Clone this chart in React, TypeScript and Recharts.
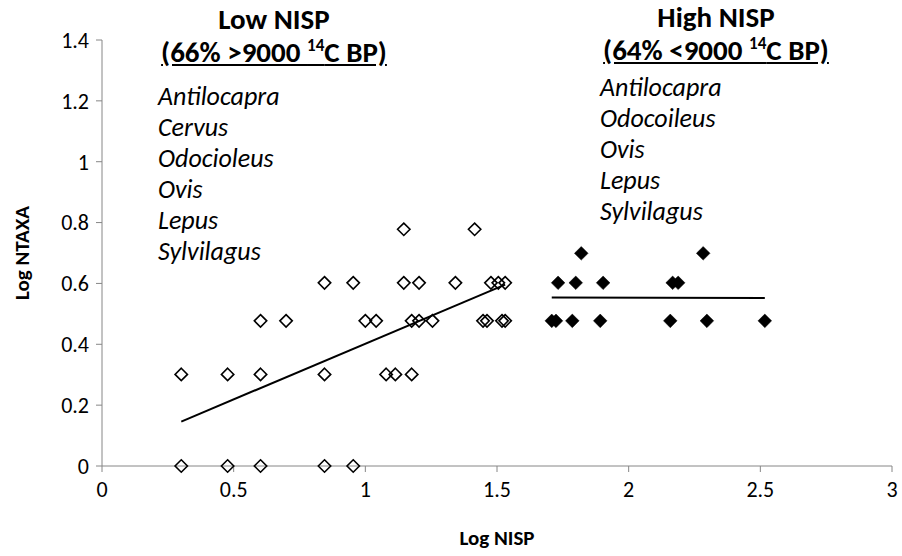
import React from "react";
import { Label, Scatter, ScatterChart, XAxis, YAxis } from "recharts";

// Log NISP vs Log NTAXA. Open diamonds = low NISP assemblages, filled = high NISP.
// Each set gets its own least-squares line, computed from the points below.

const FONT = "Carlito, Calibri, Lato, sans-serif";
const AXIS_GREY = "#868686";

const LOW_X = [
  0.301, 0.477, 0.602, 0.845, 0.954,
  0.301, 0.477, 0.602, 0.845, 1.079, 1.114, 1.176,
  0.602, 0.699, 1.0, 1.041, 1.176, 1.204, 1.255, 1.447, 1.462, 1.519, 1.531,
  0.845, 0.954, 1.146, 1.204, 1.342, 1.477, 1.505, 1.531,
  1.146, 1.415,
];
const LOW_Y = [
  0, 0, 0, 0, 0,
  0.301, 0.301, 0.301, 0.301, 0.301, 0.301, 0.301,
  0.477, 0.477, 0.477, 0.477, 0.477, 0.477, 0.477, 0.477, 0.477, 0.477, 0.477,
  0.602, 0.602, 0.602, 0.602, 0.602, 0.602, 0.602, 0.602,
  0.778, 0.778,
];

const HIGH_X = [
  1.708, 1.724, 1.786, 1.892, 2.158, 2.297, 2.517,
  1.732, 1.799, 1.903, 2.167, 2.188,
  1.82, 2.283,
];
const HIGH_Y = [
  0.477, 0.477, 0.477, 0.477, 0.477, 0.477, 0.477,
  0.602, 0.602, 0.602, 0.602, 0.602,
  0.699, 0.699,
];

const X_TICKS = [0, 0.5, 1, 1.5, 2, 2.5, 3];
const Y_TICKS = [0, 0.2, 0.4, 0.6, 0.8, 1, 1.2, 1.4];

const LOW_TAXA = ["Antilocapra", "Cervus", "Odocioleus", "Ovis", "Lepus", "Sylvilagus"];
const HIGH_TAXA = ["Antilocapra", "Odocoileus", "Ovis", "Lepus", "Sylvilagus"];

type Pt = { x: number; y: number };

const zip = (xs: number[], ys: number[]): Pt[] => xs.map((x, i) => ({ x, y: ys[i] }));

// least squares, drawn from the smallest to the largest x (like an Excel trendline)
function fitLine(pts: Pt[]): Pt[] {
  const n = pts.length;
  const mx = pts.reduce((s, p) => s + p.x, 0) / n;
  const my = pts.reduce((s, p) => s + p.y, 0) / n;
  let sxy = 0;
  let sxx = 0;
  for (const p of pts) {
    sxy += (p.x - mx) * (p.y - my);
    sxx += (p.x - mx) ** 2;
  }
  const m = sxy / sxx;
  const b = my - m * mx;
  const xs = pts.map((p) => p.x);
  const x0 = Math.min(...xs);
  const x1 = Math.max(...xs);
  return [
    { x: x0, y: b + m * x0 },
    { x: x1, y: b + m * x1 },
  ];
}

const lowPts = zip(LOW_X, LOW_Y);
const highPts = zip(HIGH_X, HIGH_Y);

function Diamond({ cx, cy, filled }: { cx?: number; cy?: number; filled?: boolean }) {
  if (cx == null || cy == null) return null;
  const r = filled ? 6.8 : 6.2;
  return (
    <path
      d={`M${cx},${cy - r}L${cx + r},${cy}L${cx},${cy + r}L${cx - r},${cy}Z`}
      fill={filled ? "#000" : "none"}
      stroke="#000"
      strokeWidth={filled ? 0.5 : 1.6}
    />
  );
}

const tickStyle = { fill: "#000", fontSize: 22, fontFamily: FONT };

function AxisTitle({ viewBox, value, vertical }: any) {
  if (!viewBox) return null;
  const { x, y, width, height } = viewBox;
  if (vertical) {
    const tx = x + 22;
    const ty = y + height / 2;
    return (
      <text x={tx} y={ty} transform={`rotate(-90 ${tx} ${ty})`} textAnchor="middle" dy="0.35em"
        fontFamily={FONT} fontSize={21} fontWeight="bold" fill="#000">
        {value}
      </text>
    );
  }
  return (
    <text x={x + width / 2} y={y + 79} textAnchor="middle" fontFamily={FONT} fontSize={21}
      fontWeight="bold" fill="#000">
      {value}
    </text>
  );
}

function TaxaBlock({ left, width, title, period, taxa, titleTop, taxaTop, taxaLine }: {
  left: number; width: number; title: string; period: React.ReactNode; taxa: string[];
  titleTop: number; taxaTop: number; taxaLine: number;
}) {
  return (
    <>
      <div style={{ position: "absolute", left, top: titleTop, width, textAlign: "center",
        fontWeight: "bold", fontSize: 29, lineHeight: "33px", whiteSpace: "nowrap" }}>
        <div>{title}</div>
        <div style={{ textDecoration: "underline" }}>{period}</div>
      </div>
      <div style={{ position: "absolute", left, top: taxaTop, fontStyle: "italic",
        fontSize: 26, lineHeight: `${taxaLine}px`, whiteSpace: "nowrap" }}>
        {taxa.map((t, i) => (
          <div key={i}>{t}</div>
        ))}
      </div>
    </>
  );
}

const sup = { fontSize: 17, verticalAlign: "super", lineHeight: 0 } as const;

export default function App() {
  return (
    <div style={{ position: "absolute", left: 0, top: 0, width: 902, height: 556,
      background: "#fff", fontFamily: FONT, color: "#000" }}>
      <ScatterChart width={902} height={556} margin={{ top: 40, right: 10, bottom: 0, left: 0 }}>
        <XAxis
          type="number"
          dataKey="x"
          domain={[0, 3]}
          ticks={X_TICKS}
          interval={0}
          height={90}
          tick={tickStyle}
          tickSize={6}
          tickMargin={9}
          axisLine={{ stroke: AXIS_GREY }}
          tickLine={{ stroke: AXIS_GREY }}
        >
          <Label content={(p: any) => <AxisTitle {...p} value="Log NISP" />} />
        </XAxis>
        <YAxis
          type="number"
          dataKey="y"
          domain={[0, 1.4]}
          ticks={Y_TICKS}
          interval={0}
          width={102}
          tick={tickStyle}
          tickSize={6}
          tickMargin={7}
          axisLine={{ stroke: AXIS_GREY }}
          tickLine={{ stroke: AXIS_GREY }}
        >
          <Label content={(p: any) => <AxisTitle {...p} value="Log NTAXA" vertical />} />
        </YAxis>
        <Scatter data={lowPts} isAnimationActive={false} shape={(p: any) => <Diamond cx={p.cx} cy={p.cy} />} />
        <Scatter data={highPts} isAnimationActive={false}
          shape={(p: any) => <Diamond cx={p.cx} cy={p.cy} filled />} />
        <Scatter data={fitLine(lowPts)} isAnimationActive={false} line={{ stroke: "#000", strokeWidth: 2 }}
          lineType="joint" shape={() => <g />} />
        <Scatter data={fitLine(highPts)} isAnimationActive={false} line={{ stroke: "#000", strokeWidth: 2 }}
          lineType="joint" shape={() => <g />} />
      </ScatterChart>

      <TaxaBlock
        left={158}
        width={232}
        title="Low NISP"
        period={<>(66% &gt;9000 <span style={sup}>14</span>C BP)</>}
        taxa={LOW_TAXA}
        titleTop={3}
        taxaTop={81}
        taxaLine={31}
      />
      <TaxaBlock
        left={600}
        width={232}
        title="High NISP"
        period={<>(64% &lt;9000 <span style={sup}>14</span>C BP)</>}
        taxa={HIGH_TAXA}
        titleTop={1}
        taxaTop={72}
        taxaLine={31}
      />
    </div>
  );
}
